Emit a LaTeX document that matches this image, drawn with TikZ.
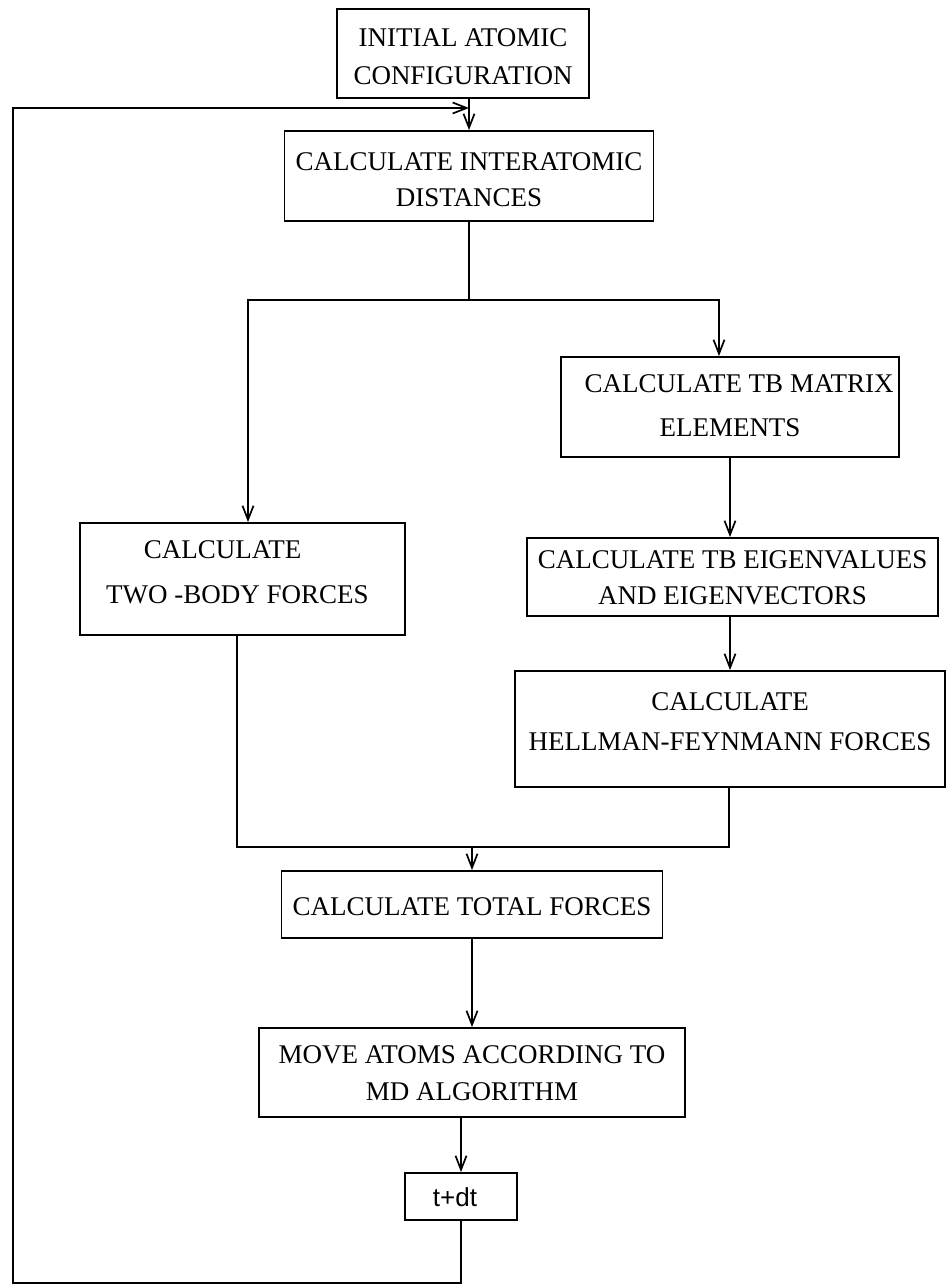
\documentclass[tikz,border=0pt]{standalone}
\usepackage{fontspec}
\setmainfont{Liberation Serif}
\newfontfamily\labelsans{Liberation Sans}
\usetikzlibrary{arrows.meta}

% text block inside a box: #1 vertical shift, #2 rows separated by \\
\newcommand\rows[2]{\raisebox{#1}[\height][\depth]{\begin{tabular}{@{}c@{}}#2\end{tabular}}}

\begin{document}
\begin{tikzpicture}[x=1pt,y=-1pt,
  line width=1.9pt,
  flowbox/.style={draw, line width=1.9pt, inner sep=0pt, align=center,
    font=\fontsize{27}{28}\selectfont},
  arr/.style={-{Straight Barb[length=14pt,width=11pt,line width=1.7pt]}}]

\useasboundingbox (0,0) rectangle (947,1285);

% process boxes
\node[flowbox, minimum width=252pt, minimum height=89pt] (b1) at (463,53.5)
  {\rows{-6pt}{INITIAL ATOMIC\\[10pt]CONFIGURATION}};
\node[flowbox, minimum width=369pt, minimum height=90pt] (b2) at (469,176)
  {\rows{-7pt}{CALCULATE INTERATOMIC\\[8pt]DISTANCES}};
\node[flowbox, minimum width=338pt, minimum height=100pt] (b3) at (730,407)
  {\rows{-2pt}{\hspace*{18pt}CALCULATE TB MATRIX\\[16pt]ELEMENTS}};
\node[flowbox, minimum width=325pt, minimum height=112pt] (b4) at (242.5,579)
  {\rows{4pt}{CALCULATE\hspace*{40pt}\\[17pt]TWO -BODY FORCES\hspace*{10pt}}};
\node[flowbox, minimum width=411pt, minimum height=78pt] (b5) at (732.5,577)
  {\rows{-4pt}{CALCULATE TB EIGENVALUES\\[8pt]AND EIGENVECTORS}};
\node[flowbox, minimum width=430pt, minimum height=116pt] (b6) at (730,729)
  {\rows{4pt}{CALCULATE\\[12pt]HELLMAN-FEYNMANN FORCES}};
\node[flowbox, minimum width=381pt, minimum height=67pt] (b7) at (472,904.5)
  {\rows{-5pt}{CALCULATE TOTAL FORCES}};
\node[flowbox, minimum width=426pt, minimum height=89pt] (b8) at (472,1072.5)
  {\rows{-4pt}{MOVE ATOMS ACCORDING TO\\[9pt]MD ALGORITHM}};
\node[flowbox, minimum width=112pt, minimum height=47pt,
  font=\labelsans\fontsize{26}{28}\selectfont] (b9) at (461,1196.5)
  {\rows{-4pt}{t+dt\hspace*{12pt}}};

% routing points
\coordinate (splitL) at (248,300);
\coordinate (splitR) at (719,300);
\coordinate (joinL) at (237,847);
\coordinate (joinR) at (729,847);
\coordinate (loopBL) at (13,1283);
\coordinate (loopTL) at (13,108);

% main flow
\draw[arr] (b1.south -| b2.north) -- (b2.north);
\draw[arr] (b2.south) |- (splitL) -- (splitL |- b4.north);
\draw[arr] (b2.south) |- (splitR) -- (splitR |- b3.north);
\draw[arr] (b3.south) -- (b3.south |- b5.north);
\draw[arr] (b3.south |- b5.south) -- (b3.south |- b6.north);
\draw (joinL |- b4.south) -- (joinL) -- (joinR) -- (joinR |- b6.south);
\draw[arr] (b7.north |- joinL) -- (b7.north);
\draw[arr] (b7.south) -- (b7.south |- b8.north);
\draw[arr] (b9.north |- b8.south) -- (b9.north);

% time-step loop back to the distance calculation
\draw[arr] (b9.south) -- (b9.south |- loopBL) -- (loopBL) -- (loopTL) -- (loopTL -| b2.north);
\end{tikzpicture}
\end{document}
